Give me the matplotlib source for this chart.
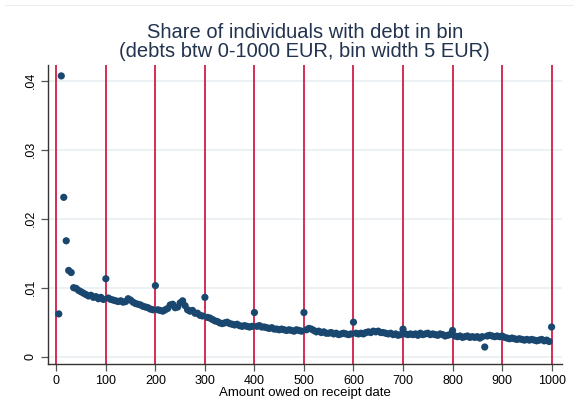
import matplotlib
matplotlib.use("Agg")
import matplotlib.pyplot as plt
import numpy as np

plt.rcParams["font.family"] = ["Liberation Sans", "DejaVu Sans"]

# share of individuals per 5 EUR bin, bins labelled by upper edge 5..1000
bin_upper = np.arange(5, 1001, 5)
share = [
    0.0062, 0.0407, 0.0231, 0.0168, 0.0125, 0.0122, 0.0100, 0.0099, 0.0096, 0.0094,
    0.0092, 0.0090, 0.0088, 0.0089, 0.0086, 0.0087, 0.0084, 0.0086, 0.0083, 0.0113,
    0.0085, 0.0083, 0.0082, 0.0081, 0.0080, 0.0081, 0.0079, 0.0080, 0.0084, 0.0082,
    0.0079, 0.0077, 0.0076, 0.0075, 0.0073, 0.0072, 0.0071, 0.0069, 0.0068, 0.0103,
    0.0068, 0.0067, 0.0066, 0.0068, 0.0070, 0.0075, 0.0076, 0.0071, 0.0072, 0.0078,
    0.0081, 0.0074, 0.0068, 0.0066, 0.0067, 0.0063, 0.0063, 0.0060, 0.0059, 0.0086,
    0.0057, 0.0056, 0.0054, 0.0052, 0.0051, 0.0049, 0.0048, 0.0049, 0.0050, 0.0048,
    0.0047, 0.0046, 0.0047, 0.0045, 0.0044, 0.0045, 0.0044, 0.0043, 0.0044, 0.0064,
    0.0044, 0.0045, 0.0043, 0.0043, 0.0042, 0.0041, 0.0042, 0.0040, 0.0040, 0.0039,
    0.0040, 0.0039, 0.0038, 0.0039, 0.0038, 0.0037, 0.0039, 0.0038, 0.0037, 0.0064,
    0.0039, 0.0041, 0.0040, 0.0038, 0.0036, 0.0037, 0.0035, 0.0036, 0.0034, 0.0034,
    0.0035, 0.0033, 0.0034, 0.0032, 0.0033, 0.0034, 0.0033, 0.0032, 0.0033, 0.0050,
    0.0034, 0.0033, 0.0034, 0.0033, 0.0035, 0.0036, 0.0035, 0.0037, 0.0036, 0.0037,
    0.0035, 0.0035, 0.0034, 0.0033, 0.0034, 0.0032, 0.0033, 0.0031, 0.0032, 0.0040,
    0.0033, 0.0032, 0.0033, 0.0032, 0.0033, 0.0031, 0.0034, 0.0032, 0.0033, 0.0034,
    0.0032, 0.0033, 0.0032, 0.0031, 0.0033, 0.0032, 0.0030, 0.0031, 0.0032, 0.0038,
    0.0030, 0.0029, 0.0030, 0.0028, 0.0029, 0.0030, 0.0028, 0.0029, 0.0028, 0.0029,
    0.0027, 0.0029, 0.0014, 0.0030, 0.0031, 0.0030, 0.0029, 0.0030, 0.0029, 0.0030,
    0.0028, 0.0027, 0.0026, 0.0027, 0.0026, 0.0025, 0.0026, 0.0025, 0.0024, 0.0025,
    0.0024, 0.0025, 0.0024, 0.0023, 0.0024, 0.0025, 0.0023, 0.0024, 0.0022, 0.0043,
]

x_ticks = list(range(0, 1001, 100))
y_ticks = [0, 0.01, 0.02, 0.03, 0.04]
y_tick_labels = ["0", ".01", ".02", ".03", ".04"]

navy = "#1a476f"
red = "#d01c45"
grid_col = "#e9f0f2"

fig = plt.figure(figsize=(5.74, 4.18), dpi=100)
ax = fig.add_axes([48 / 574, 1 - 364 / 418, (562 - 48) / 574, (364 - 65) / 418])

for y in y_ticks:
    ax.axhline(y, color=grid_col, lw=1.2, zorder=0)
for x in x_ticks:
    ax.axvline(x, color=red, lw=1.3, zorder=1)

ax.scatter(bin_upper, share, s=27, color=navy, edgecolors="none", zorder=3)

ax.set_xlim(-16.8, 1021)
ax.set_ylim(-0.00106, 0.04228)
ax.set_xticks(x_ticks)
ax.set_yticks(y_ticks)
ax.set_yticklabels(y_tick_labels, rotation=90, va="center")
ax.tick_params(axis="both", labelsize=9, color="#555555", length=5, width=0.9, pad=3)

for side in ["top", "right"]:
    ax.spines[side].set_visible(False)
for side in ["left", "bottom"]:
    ax.spines[side].set_color("#333333")
    ax.spines[side].set_linewidth(1.0)

ax.set_xlabel("Amount owed on receipt date", fontsize=9.5, labelpad=0)
fig.text(0.531, 1 - 42 / 418,
         "Share of individuals with debt in bin\n(debts btw 0-1000 EUR, bin width 5 EUR)",
         ha="center", va="center", fontsize=14.5, color="#22334f", linespacing=1.02)

fig.add_artist(plt.Line2D([5 / 574, 1], [1 - 5 / 418, 1 - 5 / 418], color="#eeeeee", lw=0.8))

plt.savefig("out.png", dpi=100)
